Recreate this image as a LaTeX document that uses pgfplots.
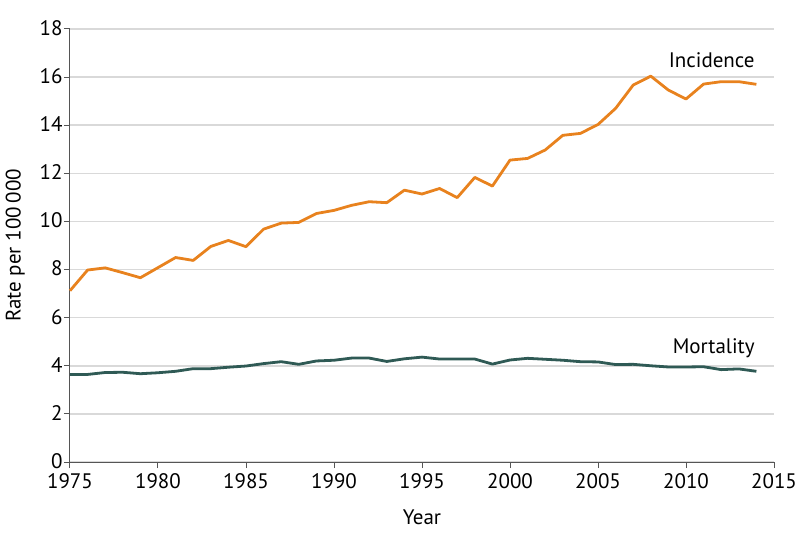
\documentclass[border=0pt]{standalone}
\usepackage{pgfplots}
\pgfplotsset{compat=1.18}
\usepackage{fontspec}
\setmainfont{PT Sans}
\definecolor{inc}{HTML}{E8821E}
\definecolor{mort}{HTML}{2F5A55}
\definecolor{gridc}{HTML}{D9D9D9}
\definecolor{axc}{HTML}{555555}
\pgfplotstableread{
year inc mort
1975 7.12 3.64
1976 7.98 3.64
1977 8.07 3.72
1978 7.87 3.73
1979 7.66 3.67
1980 8.08 3.71
1981 8.50 3.77
1982 8.38 3.88
1983 8.96 3.88
1984 9.21 3.94
1985 8.95 3.99
1986 9.68 4.09
1987 9.93 4.17
1988 9.96 4.06
1989 10.33 4.20
1990 10.46 4.23
1991 10.67 4.32
1992 10.82 4.32
1993 10.78 4.18
1994 11.30 4.29
1995 11.14 4.36
1996 11.37 4.28
1997 10.99 4.28
1998 11.83 4.28
1999 11.47 4.07
2000 12.55 4.24
2001 12.62 4.31
2002 12.97 4.27
2003 13.58 4.23
2004 13.66 4.17
2005 14.03 4.16
2006 14.70 4.05
2007 15.67 4.06
2008 16.04 4.00
2009 15.46 3.95
2010 15.09 3.95
2011 15.71 3.96
2012 15.81 3.84
2013 15.81 3.87
2014 15.70 3.77
}\data
\begin{document}
\begin{tikzpicture}
\path[use as bounding box] (-70pt,-84pt) rectangle (728pt,462pt);
\begin{axis}[
  at={(0,0)}, anchor=south west,
  scale only axis, width=704pt, height=433pt,
  xmin=1975, xmax=2015, ymin=0, ymax=18,
  xtick={1975,1980,...,2015}, ytick={0,2,...,18},
  axis lines=left, axis line style={axc, line width=1pt, -},
  tick style={axc, line width=1pt}, tick align=outside, major tick length=6pt,
  ymajorgrids, grid style={gridc, line width=1.5pt},
  /pgf/number format/.cd, set thousands separator={}, assume math mode=true,
  /pgfplots/.cd,
  tick label style={font=\fontsize{21}{24}\selectfont, black},
  label style={font=\fontsize{21}{24}\selectfont, black},
  xticklabel style={yshift=-2pt},
  yticklabel style={xshift=2pt, yshift=1pt},
  xlabel={Year}, ylabel={Rate per 100\,000},
  xlabel style={yshift=-14pt},
  ylabel style={yshift=8pt},
  clip=false,
]
\addplot[inc, line width=2.8pt, line join=round] table[x=year, y=inc] {\data};
\addplot[mort, line width=2.8pt, line join=round] table[x=year, y=mort] {\data};
\node[anchor=east, font=\fontsize{21}{24}\selectfont] at (axis cs:2014.1,16.7) {Incidence};
\node[anchor=east, font=\fontsize{21}{24}\selectfont] at (axis cs:2014.1,4.74) {Mortality};
\end{axis}
\end{tikzpicture}
\end{document}
